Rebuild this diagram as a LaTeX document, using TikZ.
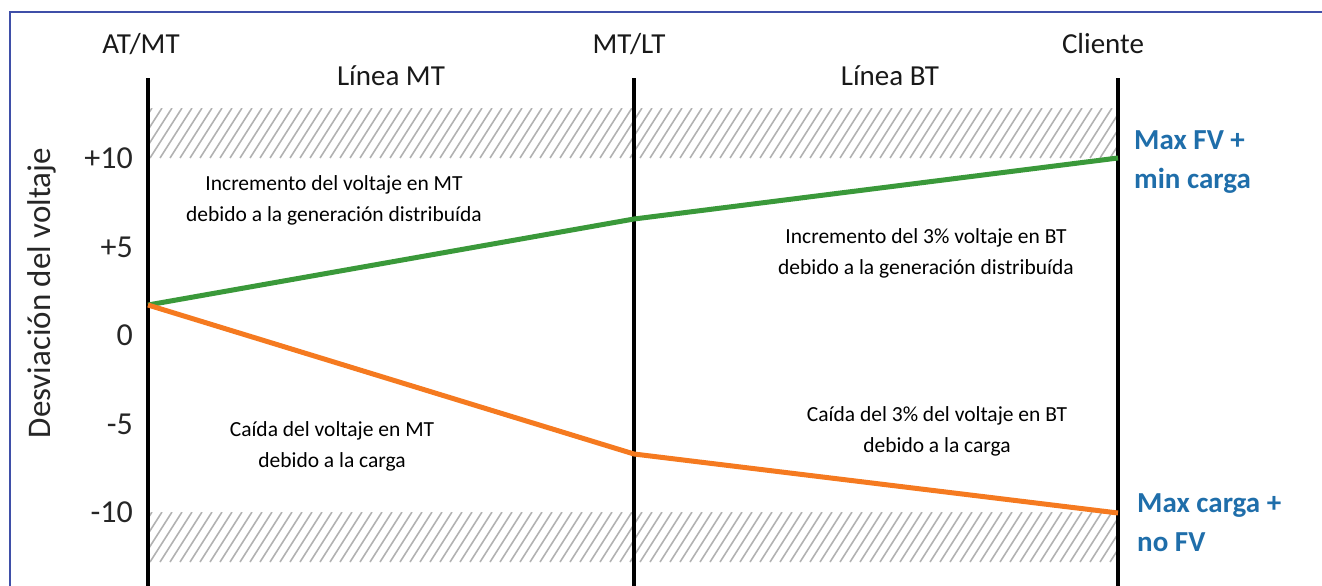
\documentclass[tikz,border=0pt]{standalone}
\usepackage{fontspec}
\setmainfont{Carlito}
\definecolor{frameblue}{HTML}{3F4FA8}
\definecolor{risegreen}{HTML}{3A993A}
\definecolor{droporange}{HTML}{F57A20}
\definecolor{limitblue}{HTML}{1F6EAA}

\begin{document}
\begin{tikzpicture}[x=1pt,y=-1pt]
    \tikzstyle{pole}=[line width=4pt,black]
    \tikzstyle{hatch}=[line width=1.6pt,black!30]
    \tikzstyle{head}=[font=\fontsize{29}{34}\selectfont,text=black!90]
    \tikzstyle{tick}=[anchor=east,inner sep=0pt,font=\fontsize{32}{36}\selectfont,text=black!85]
    \tikzstyle{note}=[align=center,font=\fontsize{21.5}{31}\selectfont]
    \tikzstyle{limit}=[anchor=west,align=left,inner sep=0pt,text=limitblue,font=\fontsize{29}{39}\selectfont\bfseries]
    \tikzstyle{rise}=[line width=5pt,risegreen]
    \tikzstyle{drop}=[line width=5pt,droporange]
    \useasboundingbox (0,0) rectangle (1322,586);
    % frame
    \draw [frameblue,line width=1.5pt] (10,586) -- (10,12) -- (1322,12);
    % hatched limits
    \begin{scope}
      \clip (150,108) rectangle (1116,158);
      \foreach \i in {0,...,100} \draw [hatch] (110+\i*10,158) -- ++(32,-50);
    \end{scope}
    \begin{scope}
      \clip (150,512) rectangle (1116,562);
      \foreach \i in {0,...,100} \draw [hatch] (110+\i*10,562) -- ++(32,-50);
    \end{scope}
    % poles
    \coordinate (atmt)  at (148,78);
    \coordinate (mtlt)  at (634,78);
    \coordinate (cli)   at (1118,78);
    \coordinate (atmtb) at (148,586);
    \coordinate (mtltb) at (634,586);
    \coordinate (clib)  at (1118,586);
    \draw [pole] (atmt) -- (atmtb);
    \draw [pole] (mtlt) -- (mtltb);
    \draw [pole] (cli)  -- (clib);
    \node (hatmt) at (141,44)  [head] {AT/MT};
    \node (hmtlt) at (629,44)  [head] {MT/LT};
    \node (hcli)  at (1103,44) [head] {Cliente};
    \node (lmt)   at (391,76)  [head] {Línea MT};
    \node (lbt)   at (890,76)  [head] {Línea BT};
    % axis
    \node (ylab) at (42,293) [rotate=90,font=\fontsize{33}{36}\selectfont,text=black!85] {Desviación del voltaje};
    \node (t10)  at (133,158) [tick] {+10};
    \node (t5)   at (133,247) [tick] {+5};
    \node (t0)   at (133,335) [tick] {0};
    \node (tm5)  at (133,424) [tick] {-5};
    \node (tm10) at (133,512) [tick] {-10};
    % profiles
    \coordinate (src)  at (148,305);
    \coordinate (gmid) at (634,219);
    \coordinate (gend) at (1118,158);
    \coordinate (omid) at (634,454);
    \coordinate (oend) at (1118,513);
    \draw [rise] (src) -- (gmid) -- (gend);
    \draw [drop] (src) -- (omid) -- (oend);
    % notes
    \node (incmt) at (334,200) [note] {Incremento del voltaje en MT\\debido a la generación distribuída};
    \node (incbt) at (926,253) [note] {Incremento del 3\% voltaje en BT\\debido a la generación distribuída};
    \node (caimt) at (332,446) [note] {Caída del voltaje en MT\\debido a la carga};
    \node (caibt) at (937,431) [note] {Caída del 3\% del voltaje en BT\\debido a la carga};
    \node (maxfv) at (1134,162) [limit] {Max FV +\\min carga};
    \node (maxca) at (1137,523) [limit] {Max carga +\\no FV};
\end{tikzpicture}
\end{document}
